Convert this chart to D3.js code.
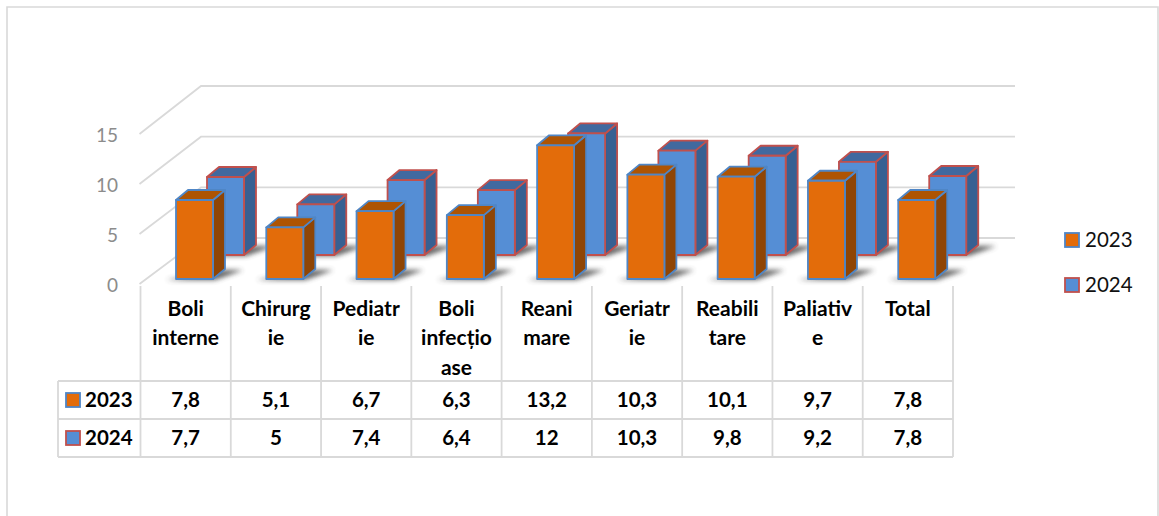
<!DOCTYPE html>
<html>
<head>
<meta charset="utf-8">
<script src="https://cdn.jsdelivr.net/npm/d3@7"></script>
<style>
  html, body { margin: 0; padding: 0; background: #fff; }
  svg { display: block; }
  text { font-family: Lato, "Open Sans", sans-serif; }
</style>
</head>
<body>
<div id="graf"></div>
<script>
const categorias = ['Boli interne', 'Chirurgie', 'Pediatrie', 'Boli infecțioase', 'Reanimare', 'Geriatrie', 'Reabilitare', 'Paliative', 'Total']
const etiquetas = [['Boli', 'interne'], ['Chirurg', 'ie'], ['Pediatr', 'ie'], ['Boli', 'infecțio', 'ase'], ['Reani', 'mare'], ['Geriatr', 'ie'], ['Reabili', 'tare'], ['Paliativ', 'e'], ['Total']]
const anios = ['2023', '2024']
const valores2023 = [7.8, 5.1, 6.7, 6.3, 13.2, 10.3, 10.1, 9.7, 7.8]
const valores2024 = [7.7, 5, 7.4, 6.4, 12, 10.3, 9.8, 9.2, 7.8]
const ticksY = [0, 5, 10, 15]

const ancho = 1159
const alto = 516

const svg = d3.select('#graf')
  .append('svg')
  .attr('width', ancho)
  .attr('height', alto)

const defs = svg.append('defs')
defs.append('filter')
  .attr('id', 'difuso')
  .attr('x', '-30%').attr('y', '-100%').attr('width', '160%').attr('height', '300%')
  .append('feGaussianBlur')
  .attr('stdDeviation', 2.6)

const gris = '#d9d9d9'

// marco
svg.append('path')
  .attr('d', `M7,516 V7 H1158 V516`)
  .attr('fill', 'none')
  .attr('stroke', gris)
  .attr('stroke-width', 1.6)

const x = d3.scaleBand()
  .domain(categorias)
  .range([140.5, 953])

// escala del frente (eje) y de la pared del fondo
const yFrente = d3.scaleLinear().domain([0, 15]).range([284, 134])
const yFondo = d3.scaleLinear().domain([0, 15]).range([238, 86])
const pxPorUnidad = 10.13

const rejilla = svg.append('g')
rejilla.selectAll('path')
  .data(ticksY)
  .join('path')
  .attr('d', d => `M${x.range()[0] - 1},${yFrente(d)} L201,${yFondo(d)} H1015`)
  .attr('fill', 'none')
  .attr('stroke', gris)
  .attr('stroke-width', 1.8)

const ejeY = svg.append('g')
  .attr('transform', 'translate(118, 1.5)')
  .call(d3.axisLeft(yFrente).tickValues(ticksY).tickSize(0).tickPadding(0))
ejeY.select('.domain').remove()
ejeY.selectAll('text')
  .style('font-size', '19px')
  .style('font-family', 'Lato, sans-serif')
  .attr('fill', '#8c8c8c')

const estilos = {
  2023: { cara: '#e36c0a', lado: '#8f4505', tope: '#ae5403', borde: '#4f86c6', dx: 35.5, base: 279 },
  2024: { cara: '#558ed5', lado: '#376092', tope: '#41699f', borde: '#c0504d', dx: 66.5, base: 255 }
}
const anchoBarra = 37
const profX = 12
const profY = 10

function dibujarBarras(anio, valores) {
  const e = estilos[anio]
  const filas = categorias.map((c, i) => ({ c, v: valores[i], x0: x(c) + e.dx }))
  const g = svg.append('g')

  // sombra en el piso
  g.selectAll('path.sombra')
    .data(filas)
    .join('path')
    .attr('class', 'sombra')
    .attr('d', d => `M${d.x0 - 10},${e.base + 1} L${d.x0 + anchoBarra + 2},${e.base + 1} L${d.x0 + anchoBarra + 30},${e.base - 9} L${d.x0 + anchoBarra + 12},${e.base - 9} Z`)
    .attr('fill', '#444')
    .attr('opacity', 0.85)
    .attr('filter', 'url(#difuso)')

  const barras = g.selectAll('g.barra')
    .data(filas)
    .join('g')
    .attr('class', 'barra')
    .attr('stroke', e.borde)
    .attr('stroke-width', 1.8)
    .attr('stroke-linejoin', 'round')

  const topeY = d => e.base - d.v * pxPorUnidad

  barras.append('path')
    .attr('fill', e.lado)
    .attr('d', d => `M${d.x0 + anchoBarra},${topeY(d)} l${profX},${-profY} V${e.base - profY} l${-profX},${profY} Z`)
  barras.append('path')
    .attr('fill', e.tope)
    .attr('d', d => `M${d.x0},${topeY(d)} l${profX},${-profY} h${anchoBarra} l${-profX},${profY} Z`)
  barras.append('rect')
    .attr('fill', e.cara)
    .attr('x', d => d.x0)
    .attr('y', topeY)
    .attr('width', anchoBarra)
    .attr('height', d => d.v * pxPorUnidad)
}

dibujarBarras('2024', valores2024)
dibujarBarras('2023', valores2023)

// tabla de datos
const tabla = svg.append('g')
const xCols = categorias.map(c => x(c)).concat(x.range()[1])
const yFilas = [381, 419, 457]

tabla.selectAll('line.v')
  .data(xCols)
  .join('line')
  .attr('class', 'v')
  .attr('x1', d => d).attr('x2', d => d)
  .attr('y1', 286).attr('y2', yFilas[2])
tabla.append('line').attr('x1', 58).attr('x2', 58).attr('y1', yFilas[0]).attr('y2', yFilas[2])
tabla.selectAll('line.h')
  .data(yFilas)
  .join('line')
  .attr('class', 'h')
  .attr('x1', 58).attr('x2', x.range()[1])
  .attr('y1', d => d).attr('y2', d => d)
tabla.selectAll('line')
  .attr('stroke', gris)
  .attr('stroke-width', 1.8)

etiquetas.forEach((lineas, i) => {
  tabla.selectAll(null)
    .data(lineas)
    .join('text')
    .attr('x', x(categorias[i]) + x.bandwidth() / 2)
    .attr('y', (d, j) => 316 + j * 29.3)
    .attr('text-anchor', 'middle')
    .attr('font-size', 21)
    .attr('font-weight', 700)
    .attr('fill', '#000')
    .text(d => d)
})

const formato = v => String(v).replace('.', ',')

function muestra(sel, anio, xm, ym) {
  sel.append('rect')
    .attr('x', xm).attr('y', ym)
    .attr('width', 14).attr('height', 14)
    .attr('fill', estilos[anio].cara)
    .attr('stroke', estilos[anio].borde)
    .attr('stroke-width', 1.8)
}

;[valores2023, valores2024].forEach((valores, f) => {
  const yTexto = yFilas[f] + 26
  muestra(tabla, anios[f], 66, yFilas[f] + 12)
  tabla.append('text')
    .attr('x', 85).attr('y', yTexto)
    .attr('font-size', 20.5).attr('font-weight', 700)
    .text(anios[f])
  tabla.selectAll(null)
    .data(valores)
    .join('text')
    .attr('x', (d, i) => x(categorias[i]) + x.bandwidth() / 2)
    .attr('y', yTexto)
    .attr('text-anchor', 'middle')
    .attr('font-size', 20.5)
    .attr('font-weight', 700)
    .text(formato)
})

// leyenda
anios.forEach((a, i) => {
  const yl = 233 + i * 45
  muestra(svg, a, 1065, yl)
  svg.append('text')
    .attr('x', 1085).attr('y', yl + 14)
    .attr('font-size', 20.5)
    .attr('fill', '#111')
    .text(a)
})
</script>
</body>
</html>
